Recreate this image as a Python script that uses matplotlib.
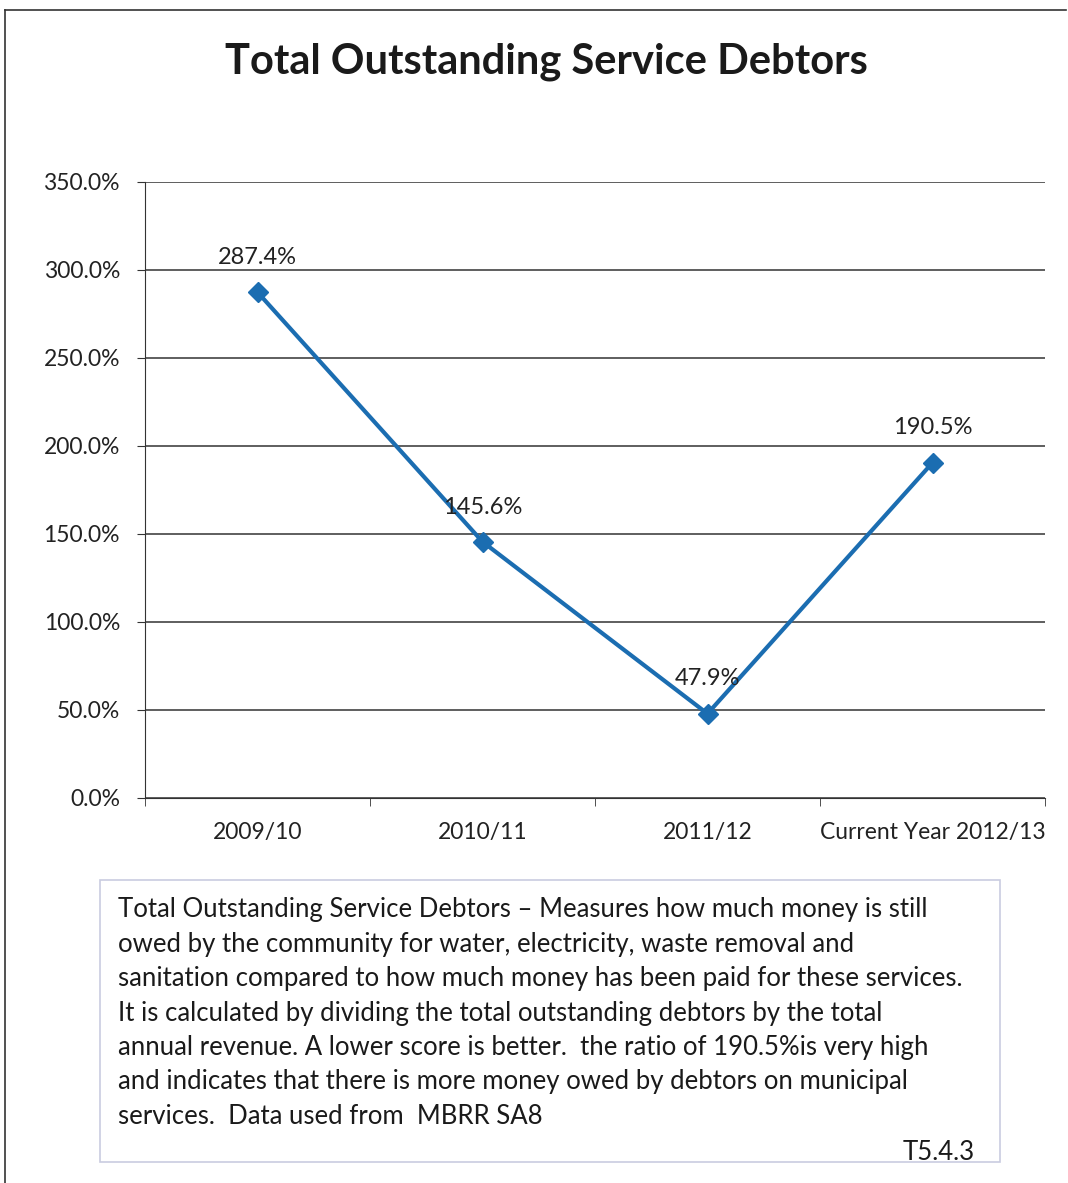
import matplotlib.pyplot as plt
from matplotlib.patches import Rectangle
from matplotlib.lines import Line2D

plt.rcParams['font.family'] = ['Lato', 'DejaVu Sans']

# data
years = ['2009/10', '2010/11', '2011/12', 'Current Year 2012/13']
ratio = [287.4, 145.6, 47.9, 190.5]
y_ticks = [0, 50, 100, 150, 200, 250, 300, 350]

note_lines = [
    "Total Outstanding Service Debtors \u2013 Measures how much money is still",
    "owed by the community for water, electricity, waste removal and",
    "sanitation compared to how much money has been paid for these services.",
    "It is calculated by dividing the total outstanding debtors by the total",
    "annual revenue. A lower score is better.  the ratio of 190.5%is very high",
    "and indicates that there is more money owed by debtors on municipal",
    "services.  Data used from  MBRR SA8",
]

W, H = 1068, 1183
fig = plt.figure(figsize=(W / 100, H / 100), dpi=100)

def fx(px):
    return px / W

def fy(py):
    return 1 - py / H

# outer frame
fig.add_artist(Line2D([fx(5), fx(1066)], [fy(10), fy(10)], color='#333333', lw=1.2))
fig.add_artist(Line2D([fx(5), fx(5)], [fy(10), fy(1183)], color='#333333', lw=1.2))

ax = fig.add_axes([fx(145), fy(798), fx(1045) - fx(145), fy(182) - fy(798)])
x = list(range(len(years)))
ax.plot(x, ratio, color='#1b6db1', lw=3, marker='D', markersize=10, zorder=3)
for xi, v in zip(x, ratio):
    ax.annotate(f"{v:.1f}%", (xi, v), xytext=(0, 25), textcoords='offset points',
                ha='center', va='center', fontsize=17, color='#222222')

ax.set_xlim(-0.5, len(years) - 0.5)
ax.set_ylim(0, 350)
ax.set_yticks(y_ticks)
ax.set_yticklabels([f"{t:.1f}%" for t in y_ticks], fontsize=16.5, color='#222222')
ax.set_xticks(x)
ax.set_xticklabels(years, fontsize=16.5, color='#222222')
ax.set_xticks([i - 0.5 for i in range(len(years) + 1)], minor=True)
ax.tick_params(axis='x', which='major', length=0, pad=17)
ax.tick_params(axis='x', which='minor', length=6, color='#333333')
ax.tick_params(axis='y', length=6, color='#333333', pad=12)
ax.grid(axis='y', color='#333333', lw=1.1)
ax.set_axisbelow(True)
for s in ['top', 'right']:
    ax.spines[s].set_visible(False)
ax.spines['left'].set_color('#333333')
ax.spines['bottom'].set_color('#333333')

fig.text(fx(546), fy(62), 'Total Outstanding Service Debtors', ha='center', va='center',
         fontsize=30, fontweight='bold', color='#1a1a1a')

# note box
fig.add_artist(Rectangle((fx(100), fy(1162)), fx(1000) - fx(100), fy(880) - fy(1162),
                         fill=False, edgecolor='#c9cce0', lw=1.2))
for i, line in enumerate(note_lines):
    fig.text(fx(118), fy(910 + i * 34.4), line, ha='left', va='center',
             fontsize=18.5, color='#1a1a1a')
fig.text(fx(975), fy(1152), 'T5.4.3', ha='right', va='center', fontsize=18.5, color='#1a1a1a')

fig.savefig('out.png', dpi=100)
